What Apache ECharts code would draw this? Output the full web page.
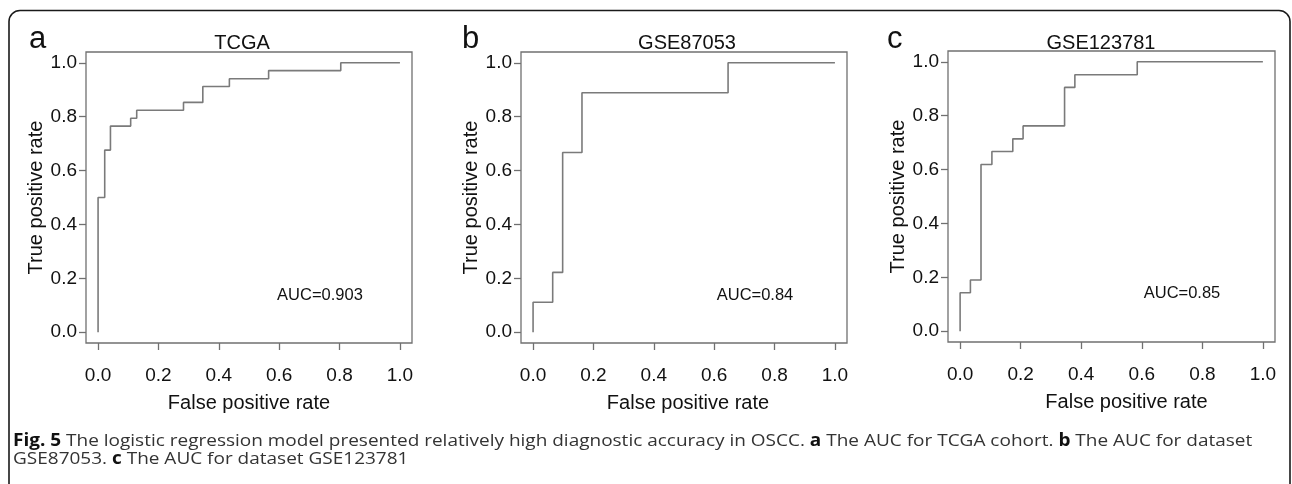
<!DOCTYPE html>
<html>
<head>
<meta charset="utf-8">
<title>ROC curves</title>
<script src="https://cdn.jsdelivr.net/npm/echarts@6.0.0/dist/echarts.min.js"></script>
<style>
  html, body { margin: 0; padding: 0; background: #fff; }
  #chart { width: 1292px; height: 484px; }
</style>
</head>
<body>
<div id="chart"></div>
<script>
  // ROC points (false positive rate / true positive rate)
  const tcgaFpr = [0, 0, 0.022, 0.041, 0.108, 0.128, 0.283, 0.347, 0.435, 0.565, 0.804, 1];
  const tcgaTpr = [0, 0.5, 0.676, 0.765, 0.794, 0.824, 0.853, 0.912, 0.941, 0.971, 1, 1];

  const gse87053Fpr = [0, 0, 0.065, 0.098, 0.162, 0.646, 1];
  const gse87053Tpr = [0, 0.111, 0.222, 0.667, 0.889, 1, 1];

  const gse123781Fpr = [0, 0, 0.034, 0.069, 0.105, 0.174, 0.208, 0.345, 0.379, 0.585, 1];
  const gse123781Tpr = [0, 0.143, 0.190, 0.619, 0.667, 0.714, 0.762, 0.905, 0.952, 1, 1];

  const panelNames = ['TCGA', 'GSE87053', 'GSE123781'];
  const panelLetters = ['a', 'b', 'c'];
  const aucLabels = ['AUC=0.903', 'AUC=0.84', 'AUC=0.85'];
  const tickValues = [0, 0.2, 0.4, 0.6, 0.8, 1.0];

  const FONT = '"Liberation Sans", Arial, sans-serif';
  const CAPTION_FONT = '"Open Sans", "Noto Sans", sans-serif';
  const GREY = '#707070';
  const INK = '#111';

  const fprs = [tcgaFpr, gse87053Fpr, gse123781Fpr];
  const tprs = [tcgaTpr, gse87053Tpr, gse123781Tpr];

  // plot boxes (R style, axis range padded by 4%)
  const boxes = [
    {left: 86, top: 52, width: 326, height: 291},
    {left: 521, top: 52, width: 326, height: 291},
    {left: 948, top: 51, width: 327, height: 291}
  ];
  // where the text sits in each panel
  const letterPos = [[29, 39], [462, 39], [887, 39]];
  const titlePos = [[242, 43], [687, 43], [1101, 43]];
  const aucPos = [[320, 295], [755, 295], [1182, 293]];
  const xNameShift = [0, 8, 30];

  let grids = [], xAxes = [], yAxes = [], series = [], graphics = [];

  boxes.forEach((b, i) => {
    grids.push({
      left: b.left, top: b.top, width: b.width, height: b.height,
      show: true, borderColor: GREY, borderWidth: 1.3, backgroundColor: 'transparent'
    });
    xAxes.push({
      gridIndex: i, type: 'value', min: -0.04, max: 1.04, position: 'bottom',
      splitLine: {show: false},
      axisLine: {show: false, onZero: false},
      axisTick: {show: true, length: 7, customValues: tickValues, lineStyle: {color: GREY, width: 1.3}},
      axisLabel: {
        customValues: tickValues, margin: 23, fontSize: 19, color: INK, fontFamily: FONT,
        formatter: v => v.toFixed(1)
      },
      name: 'False positive rate', nameLocation: 'middle', nameGap: 50,
      nameTextStyle: {fontSize: 20, color: INK, fontFamily: FONT, padding: [0, 0, 0, xNameShift[i]]}
    });
    yAxes.push({
      gridIndex: i, type: 'value', min: -0.04, max: 1.04, position: 'left',
      splitLine: {show: false},
      axisLine: {show: false, onZero: false},
      axisTick: {show: true, length: 7, customValues: tickValues, lineStyle: {color: GREY, width: 1.3}},
      axisLabel: {
        customValues: tickValues, margin: 9, fontSize: 19, color: INK, fontFamily: FONT,
        formatter: v => v.toFixed(1)
      },
      name: 'True positive rate', nameLocation: 'middle', nameGap: 40, nameRotate: 90,
      nameTextStyle: {fontSize: 20, color: INK, fontFamily: FONT}
    });
    series.push({
      name: panelNames[i], type: 'line', xAxisIndex: i, yAxisIndex: i,
      step: 'end', showSymbol: false, silent: true,
      lineStyle: {color: '#7a7a7a', width: 1.6},
      data: fprs[i].map((x, k) => [x, tprs[i][k]])
    });

    graphics.push({
      type: 'text', x: letterPos[i][0], y: letterPos[i][1],
      style: {text: panelLetters[i], fontSize: 31, fill: INK, fontFamily: FONT, verticalAlign: 'middle'}
    });
    graphics.push({
      type: 'text', x: titlePos[i][0], y: titlePos[i][1],
      style: {text: panelNames[i], fontSize: 20, fill: INK, fontFamily: FONT, align: 'center', verticalAlign: 'middle'}
    });
    graphics.push({
      type: 'text', x: aucPos[i][0], y: aucPos[i][1],
      style: {text: aucLabels[i], fontSize: 16.5, fill: INK, fontFamily: FONT, align: 'center', verticalAlign: 'middle'}
    });
  });

  // outer frame of the figure + caption
  graphics.push({
    type: 'rect', shape: {x: 9, y: 10.5, width: 1281, height: 540, r: 11},
    style: {fill: 'none', stroke: '#1a1a1a', lineWidth: 1.6}
  });
  const rich = {b: {fontWeight: 'bold', fill: '#111', fontSize: 17, fontFamily: CAPTION_FONT}};
  graphics.push({
    type: 'text', x: 13, y: 441, scaleX: 1.117,
    style: {
      text: '{b|Fig. 5} The logistic regression model presented relatively high diagnostic accuracy in OSCC. {b|a} The AUC for TCGA cohort. {b|b} The AUC for dataset',
      rich: rich, fontSize: 17, fill: '#333', fontFamily: CAPTION_FONT, verticalAlign: 'middle'
    }
  });
  graphics.push({
    type: 'text', x: 13, y: 459, scaleX: 1.117,
    style: {
      text: 'GSE87053. {b|c} The AUC for dataset GSE123781',
      rich: rich, fontSize: 17, fill: '#333', fontFamily: CAPTION_FONT, verticalAlign: 'middle'
    }
  });

  let chart = echarts.init(document.getElementById('chart'), null, {renderer: 'canvas'});
  chart.setOption({
    animation: false,
    backgroundColor: '#fff',
    grid: grids,
    xAxis: xAxes,
    yAxis: yAxes,
    series: series,
    graphic: graphics
  });
</script>
</body>
</html>
